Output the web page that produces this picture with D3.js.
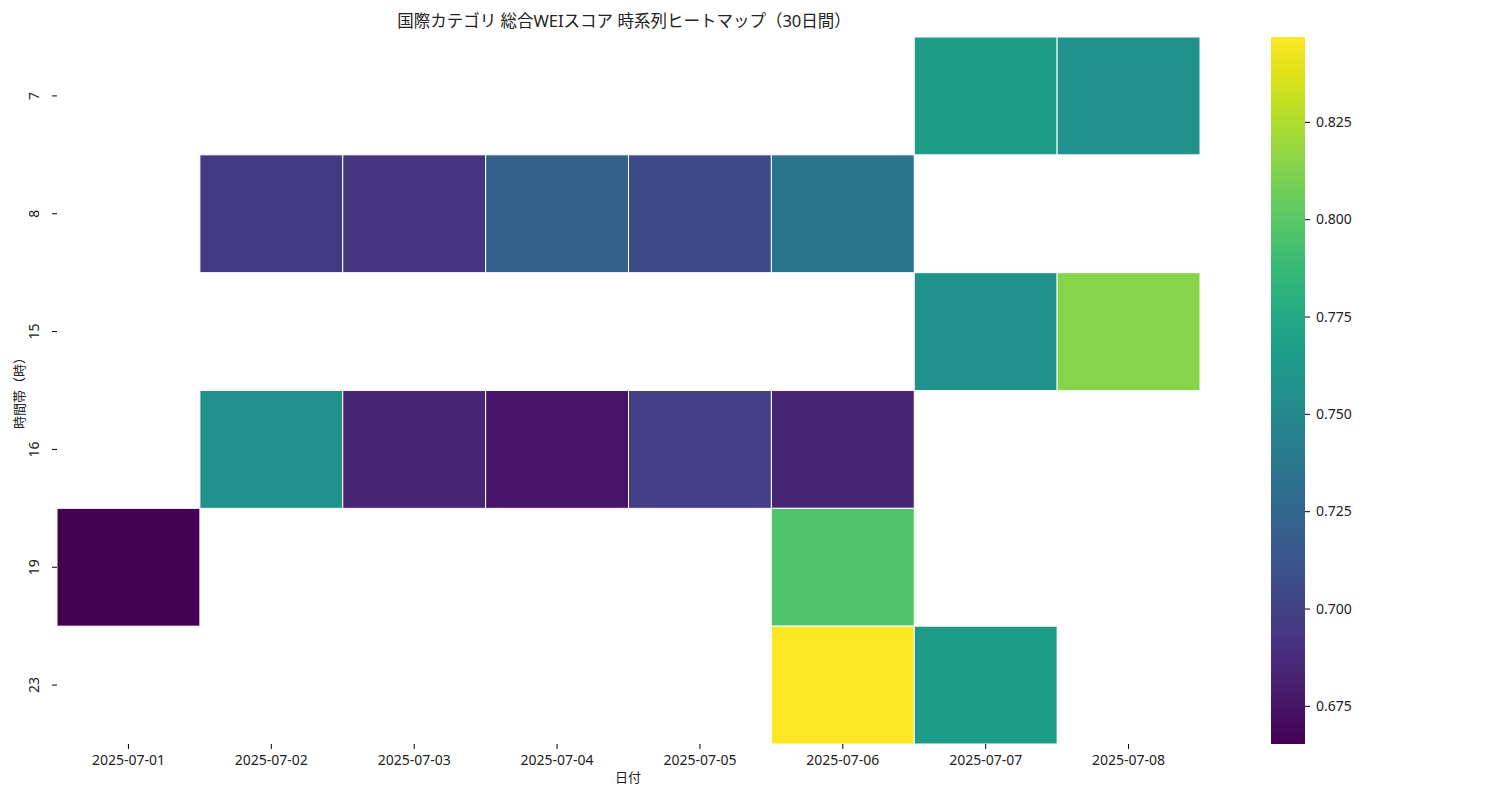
<!DOCTYPE html>
<meta charset="utf-8">
<script src="https://cdnjs.cloudflare.com/ajax/libs/d3/7.8.5/d3.min.js"></script>
<style>
  body { margin: 0; background: #fff; }
  svg text { font-family: "Noto Sans", "Noto Sans CJK JP", sans-serif; fill: #222; }
</style>
<svg id="plot" width="1500" height="800"></svg>
<script>
var dates = ["2025-07-01","2025-07-02","2025-07-03","2025-07-04","2025-07-05","2025-07-06","2025-07-07","2025-07-08"];
var hours = ["7","8","15","16","19","23"];
// [hour, date, score]
var cells = [
  ["7","2025-07-07",0.765], ["7","2025-07-08",0.757],
  ["8","2025-07-02",0.695], ["8","2025-07-03",0.693], ["8","2025-07-04",0.720], ["8","2025-07-05",0.705], ["8","2025-07-06",0.735],
  ["15","2025-07-07",0.758], ["15","2025-07-08",0.814],
  ["16","2025-07-02",0.756], ["16","2025-07-03",0.683], ["16","2025-07-04",0.675], ["16","2025-07-05",0.698], ["16","2025-07-06",0.683],
  ["19","2025-07-01",0.6652], ["19","2025-07-06",0.797],
  ["23","2025-07-06",0.8468], ["23","2025-07-07",0.765]
];
var cbTicks = [0.675,0.700,0.725,0.750,0.775,0.800,0.825];

var svg = d3.select("#plot");
var x = d3.scaleBand().domain(dates).range([57,1200]);
var y = d3.scaleBand().domain(hours).range([37,744]);
var vmin = d3.min(cells, d => d[2]), vmax = d3.max(cells, d => d[2]);
var color = d3.scaleSequential(d3.interpolateViridis).domain([vmin, vmax]);

svg.selectAll(".cell").data(cells).enter().append("rect")
  .attr("x", d => x(d[1])).attr("y", d => y(d[0]))
  .attr("width", x.bandwidth()).attr("height", y.bandwidth())
  .attr("fill", d => color(d[2]))
  .attr("stroke", "#fff").attr("stroke-width", 1);

var xa = svg.append("g").attr("transform","translate(0,744)")
  .call(d3.axisBottom(x).tickSize(5).tickPadding(6));
xa.select(".domain").remove();
xa.selectAll("text").style("font-size","14px");

var ya = svg.append("g").attr("transform","translate(57,0)")
  .call(d3.axisLeft(y).tickSize(5).tickPadding(6));
ya.select(".domain").remove();
ya.selectAll("text").style("font-size","14px")
  .attr("text-anchor","middle").attr("transform","rotate(-90)").attr("x",0).attr("y",-18).attr("dy","0");

svg.append("text").attr("x",628).attr("y",782).attr("text-anchor","middle").style("font-size","13px").text("日付");
svg.append("text").attr("transform","translate(24,390) rotate(-90)").attr("text-anchor","middle").style("font-size","13px").text("時間帯（時）");
svg.append("text").attr("x",624).attr("y",27).attr("text-anchor","middle").style("font-size","16.5px").text("国際カテゴリ 総合WEIスコア 時系列ヒートマップ（30日間）");

// colorbar
var cbx = 1271, cbw = 34;
var cy = d3.scaleLinear().domain([vmin, vmax]).range([744,37]);
var defs = svg.append("defs");
var grad = defs.append("linearGradient").attr("id","cb").attr("x1",0).attr("y1",1).attr("x2",0).attr("y2",0);
d3.range(0,1.01,0.05).forEach(function(t){
  grad.append("stop").attr("offset", t).attr("stop-color", d3.interpolateViridis(t));
});
svg.append("rect").attr("x",cbx).attr("y",37).attr("width",cbw).attr("height",707).attr("fill","url(#cb)");
var ca = svg.append("g").attr("transform","translate(" + (cbx+cbw) + ",0)")
  .call(d3.axisRight(cy).tickValues(cbTicks).tickFormat(d3.format(".3f")).tickSize(5).tickPadding(6));
ca.select(".domain").remove();
ca.selectAll("text").style("font-size","14px");
</script>
